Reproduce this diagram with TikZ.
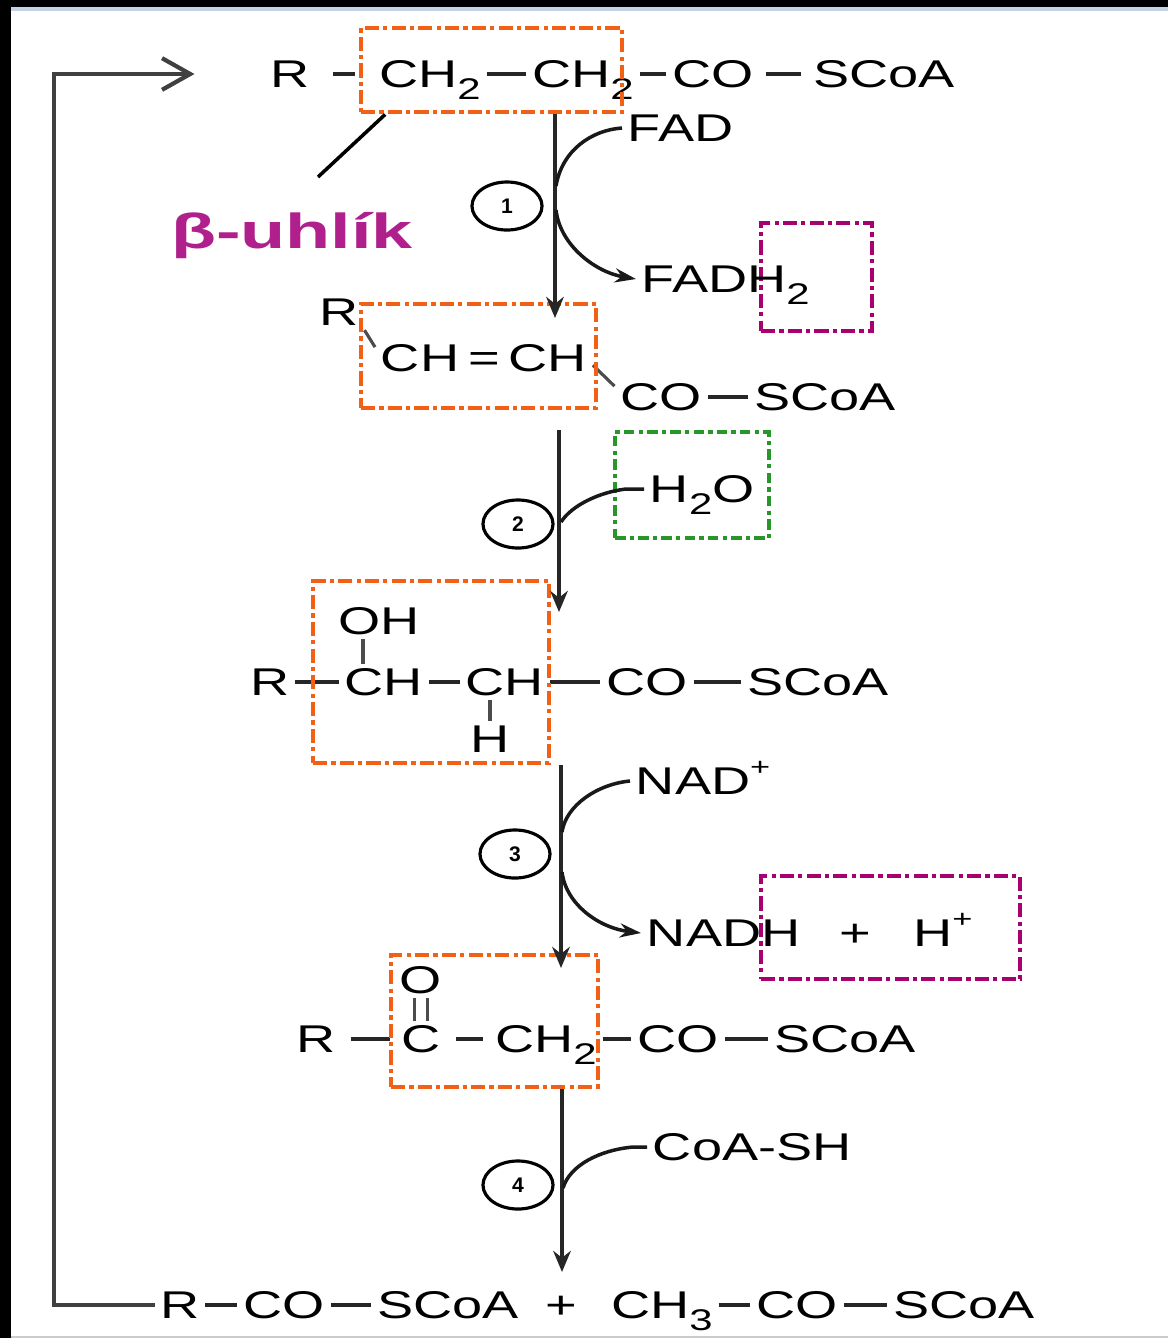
\documentclass[tikz,border=0pt]{standalone}
\usepackage{fontspec}
\setmainfont{Liberation Sans}
\usepackage{xcolor}
\usetikzlibrary{arrows.meta, shapes.geometric, fit, calc}
\definecolor{orange1}{RGB}{242,96,22}
\definecolor{magenta1}{RGB}{168,0,110}
\definecolor{green1}{RGB}{40,150,40}
\definecolor{violet1}{RGB}{176,32,140}
\definecolor{frame1}{RGB}{196,210,232}
\newcommand{\low}[1]{\raisebox{-0.3em}{\fontsize{8.5}{8.5}\selectfont #1}}
\newcommand{\high}[1]{\raisebox{0.5em}{\fontsize{7}{7}\selectfont #1}}

\begin{document}
\begin{tikzpicture}[x=0.01cm, y=-0.01cm,
    grp/.style={font=\fontsize{11}{13}\selectfont, xscale=1.4, inner xsep=1pt, inner ysep=1pt, text height=7.9pt, text depth=0pt},
    bond/.style={line width=1.1pt, black!85},
    vbond/.style={line width=0.9pt, black!70},
    orangebox/.style={draw=orange1, line width=1.4pt, dash pattern=on 4pt off 1.2pt on 1.2pt off 1.2pt, inner sep=0pt},
    magentabox/.style={draw=magenta1, line width=1.3pt, dash pattern=on 4pt off 1.2pt on 1.2pt off 1.2pt, inner sep=0pt},
    greenbox/.style={draw=green1, line width=1.3pt, dash pattern=on 3pt off 1.2pt on 1.2pt off 1.2pt, inner sep=0pt},
    rxn/.style={line width=1.2pt, black!85, -{Stealth[length=6pt,width=5pt]}},
    side/.style={line width=1pt, black!90},
    sideout/.style={side, -{Stealth[length=6pt,width=4pt]}},
    stepnum/.style={ellipse, draw, line width=0.9pt, minimum width=0.7cm, minimum height=0.48cm, inner sep=0pt, font=\fontsize{6}{6}\selectfont\bfseries},
    loopback/.style={line width=1.2pt, black!75, -{Straight Barb[length=8pt,width=9pt,line width=1.2pt]}}
]
    \useasboundingbox (0,0) rectangle (1168,1338);
    % screenshot frame
    \fill[black] (0,0) rectangle (1168,7);
    \fill[black] (0,0) rectangle (11,1338);
    \fill[frame1] (11,7) rectangle (1168,11);
    \fill[black!20] (11,1336) rectangle (1168,1338);

    % acyl-CoA
    \node[grp] (r1) at (290,74) {R};
    \node[grp] (c1a) at (430,74) {CH\low{2}};
    \node[grp] (c1b) at (583,74) {CH\low{2}};
    \node[grp] (co1) at (713,74) {CO};
    \node[grp] (s1) at (884,74) {SCoA};
    \draw[bond, shorten <=0.18cm, shorten >=0.18cm] (r1) -- (c1a);
    \draw[bond] (c1a) -- (c1b);
    \draw[bond] (c1b) -- (co1);
    \draw[bond, shorten <=0.06cm, shorten >=0.06cm] (co1) -- (s1);

    % enoyl-CoA
    \node[grp] (r2) at (339,312) {R};
    \node[grp] (c2) at (484,358) {CH\,=\,CH};
    \node[grp] (co2) at (661,397) {CO};
    \node[grp] (s2) at (825,397) {SCoA};
    \draw[vbond] (r2.south east) -- ($(c2.north west)!0.4!(c2.west)$);
    \draw[vbond] ($(c2.east)!0.4!(c2.south east)$) -- ($(co2.north west)!0.4!(co2.west)$);
    \draw[bond] (co2) -- (s2);

    % hydroxyacyl-CoA
    \node[grp] (r3) at (270,682) {R};
    \node[grp] (c3a) at (384,682) {CH};
    \node[grp] (c3b) at (505,682) {CH};
    \node[grp] (co3) at (647,682) {CO};
    \node[grp] (s3) at (818,682) {SCoA};
    \node[grp] (oh3) at (379,621) {OH};
    \node[grp] (h3) at (490,739) {H};
    \coordinate (xoh) at (363,0);
    \draw[bond] (r3) -- (c3a);
    \draw[bond] (c3a) -- (c3b);
    \draw[bond] (c3b) -- (co3);
    \draw[bond] (co3) -- (s3);
    \draw[vbond] (oh3.south -| xoh) -- (c3a.north -| xoh);
    \draw[vbond] (h3.north) -- (h3.north |- c3b.south);

    % ketoacyl-CoA
    \node[grp] (r4) at (316,1039) {R};
    \node[grp] (c4) at (421,1039) {C};
    \node[grp] (c4b) at (546,1039) {CH\low{2}};
    \node[grp] (co4) at (678,1039) {CO};
    \node[grp] (s4) at (845,1039) {SCoA};
    \node[grp] (o4) at (421,980) {O};
    \draw[bond, shorten <=0.1cm, shorten >=0.06cm] (r4) -- (c4);
    \draw[bond, shorten <=0.1cm, shorten >=0.06cm] (c4) -- (c4b);
    \draw[bond] (c4b) -- (co4);
    \draw[bond] (co4) -- (s4);
    \draw[vbond] ([xshift=-1.8pt]o4.south) -- ([xshift=-1.8pt]c4.north);
    \draw[vbond] ([xshift=1.8pt]o4.south) -- ([xshift=1.8pt]c4.north);

    % products
    \node[grp] (r5) at (180,1305) {R};
    \node[grp] (co5) at (284,1305) {CO};
    \node[grp] (s5) at (448,1305) {SCoA};
    \node[grp] (pl1) at (561,1305) {+};
    \node[grp] (ch5) at (662,1305) {CH\low{3}};
    \node[grp] (co6) at (797,1305) {CO};
    \node[grp] (s6) at (964,1305) {SCoA};
    \draw[bond] (r5) -- (co5);
    \draw[bond] (co5) -- (s5);
    \draw[bond] (ch5) -- (co6);
    \draw[bond] (co6) -- (s6);

    % highlight boxes
    \node[orangebox, fit={(361,28) (622,112)}] (b1) {};
    \node[orangebox, fit={(361,304) (596,408)}] (b2) {};
    \node[orangebox, fit={(313,581) (549,763)}] (b3) {};
    \node[orangebox, fit={(391,955) (598,1087)}] (b4) {};
    \node[magentabox, fit={(761,223) (872,331)}] (m1) {};
    \node[magentabox, fit={(761,876) (1020,979)}] (m2) {};
    \node[greenbox, fit={(615,432) (769,538)}] (g1) {};

    % beta carbon label
    \node[font=\fontsize{14}{16}\selectfont\bfseries, text=violet1, xscale=1.5, anchor=base, inner sep=0pt] (beta) at (292,248) {β-uhlík};
    \coordinate (bp) at (318,177);
    \draw[line width=1pt] (bp) -- ($(b1.south west)!0.1!(b1.south east)$);

    % reagents
    \node[grp, anchor=west] (fad) at (622,128) {FAD};
    \node[grp, anchor=west] (fadh) at (636,279) {FADH\low{2}};
    \node[grp, anchor=west] (h2o) at (644,489) {H\low{2}O};
    \node[grp, anchor=west] (nad) at (630,781) {NAD\high{+}};
    \node[grp, anchor=west] (nadh) at (641,933) {NADH};
    \node[grp] (pl2) at (855,933) {+};
    \node[grp] (hp) at (943,933) {H\high{+}};
    \node[grp, anchor=west] (coa) at (647,1147) {CoA-SH};

    % steps
    \node[stepnum] (st1) at (507,206) {1};
    \node[stepnum] (st2) at (518,524) {2};
    \node[stepnum] (st3) at (515,854) {3};
    \node[stepnum] (st4) at (518,1185) {4};

    % reaction arrows
    \coordinate (e1) at (555,318);
    \coordinate (a2) at (559,430);
    \coordinate (e2) at (559,612);
    \coordinate (e3) at (561,968);
    \coordinate (e4) at (562,1272);
    \draw[rxn] (b1.south -| e1) -- (e1);
    \draw[rxn] (a2) -- (e2);
    \draw[rxn] (b3.south -| e3) -- (e3);
    \draw[rxn] (b4.south -| e4) -- (e4);

    \coordinate (j1) at (556,186);
    \coordinate (k1) at (556,210);
    \coordinate (j2) at (561,522);
    \coordinate (j3) at (562,832);
    \coordinate (k3) at (562,872);
    \coordinate (j4) at (563,1188);
    \draw[side] (fad.west) .. controls (592,130) and (562,150) .. (j1);
    \draw[sideout] (k1) .. controls (560,245) and (595,272) .. (fadh.west);
    \draw[side] (h2o.west) -- ++(-18,0) .. controls (600,492) and (572,505) .. (j2);
    \draw[side] (nad.west) .. controls (598,784) and (566,805) .. (j3);
    \draw[sideout] (k3) .. controls (566,905) and (600,928) .. (nadh.west);
    \draw[side] (coa.west) -- ++(-14,0) .. controls (600,1150) and (570,1165) .. (j4);

    % recycling of the shortened acyl-CoA
    \coordinate (lp) at (54,74);
    \draw[loopback, shorten >=0.7cm] (r5.west) -| (lp) -- (r1.west);
\end{tikzpicture}
\end{document}
